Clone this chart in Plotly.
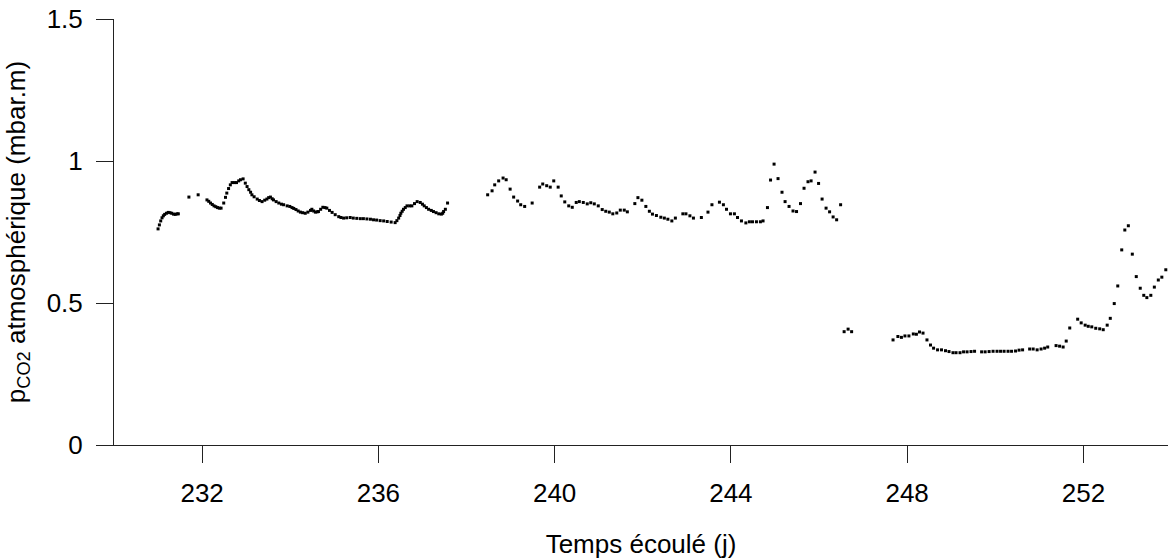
import plotly.graph_objects as go

# Elapsed time (days) and atmospheric pCO2 (mbar.m)
days = [
    231.00, 231.03, 231.06, 231.09, 231.12, 231.15, 231.19, 231.23, 231.27, 231.31,
    231.35, 231.39, 231.43, 231.46,
    231.70, 231.91,
    232.11, 232.15, 232.19, 232.23, 232.27, 232.31, 232.35, 232.39, 232.43, 232.49,
    232.53, 232.56, 232.60, 232.64, 232.68, 232.73, 232.78, 232.83, 232.87, 232.93,
    232.98, 233.02, 233.06, 233.10, 233.13, 233.18, 233.25, 233.30, 233.36, 233.42,
    233.47, 233.51, 233.55, 233.59, 233.62, 233.68, 233.74, 233.80, 233.85, 233.93,
    233.99, 234.04, 234.08, 234.13, 234.18, 234.23, 234.28, 234.34, 234.40, 234.46,
    234.49, 234.53, 234.57, 234.61, 234.64, 234.69, 234.74, 234.79, 234.83, 234.89,
    234.95, 235.02, 235.10, 235.15, 235.21, 235.28, 235.36, 235.43, 235.51, 235.59,
    235.66, 235.74, 235.82, 235.89, 235.96, 236.04, 236.12, 236.20, 236.29, 236.38,
    236.42, 236.46, 236.49, 236.51, 236.54, 236.57, 236.61, 236.65, 236.71, 236.76,
    236.82, 236.88, 236.95, 237.00, 237.04, 237.09, 237.14, 237.20, 237.25, 237.31,
    237.37, 237.43, 237.46, 237.48, 237.52, 237.57,
    238.48, 238.58, 238.64, 238.73, 238.83, 238.90, 238.99, 239.07, 239.16, 239.23,
    239.32, 239.49, 239.66, 239.73, 239.82, 239.90, 239.98, 240.08, 240.15, 240.23,
    240.32, 240.40, 240.49, 240.56, 240.65, 240.74, 240.82, 240.90, 240.99, 241.08,
    241.16, 241.24, 241.32, 241.41, 241.49, 241.58, 241.65, 241.82, 241.89, 241.98,
    242.07, 242.15, 242.22, 242.31, 242.41, 242.49, 242.57, 242.66, 242.74, 242.91,
    242.98, 243.07, 243.15, 243.33, 243.48, 243.57, 243.74, 243.83, 243.90, 243.99,
    244.08, 244.15, 244.24, 244.34, 244.42, 244.49, 244.58, 244.67, 244.73, 244.83,
    244.90, 244.98, 245.07, 245.16, 245.23, 245.32, 245.41, 245.49, 245.58, 245.66,
    245.75, 245.82, 245.91, 245.99, 246.07, 246.16, 246.24, 246.32, 246.40, 246.49,
    246.57, 246.66, 246.74,
    247.68, 247.79, 247.87, 247.95, 248.04, 248.14, 248.21, 248.28, 248.36, 248.45,
    248.53, 248.60, 248.69, 248.78, 248.87, 248.95, 249.04, 249.11, 249.20, 249.28,
    249.36, 249.45, 249.53, 249.69, 249.77, 249.86, 249.95, 250.04, 250.12, 250.20,
    250.29, 250.37, 250.46, 250.54, 250.62, 250.78, 250.86, 250.95, 251.04, 251.12,
    251.19, 251.38, 251.46, 251.54, 251.61, 251.69, 251.87, 251.95, 252.04, 252.11,
    252.19, 252.28, 252.37, 252.45, 252.54, 252.61, 252.70, 252.78, 252.87, 252.94,
    253.02, 253.11, 253.20, 253.29, 253.37, 253.44, 253.53, 253.61, 253.70, 253.78,
    253.87,
]

pco2 = [
    0.761, 0.775, 0.789, 0.800, 0.807, 0.812, 0.816, 0.819, 0.818, 0.816,
    0.813, 0.812, 0.814, 0.814,
    0.873, 0.881,
    0.863, 0.858, 0.852, 0.847, 0.842, 0.839, 0.836, 0.834, 0.834, 0.852,
    0.872, 0.887, 0.903, 0.916, 0.924, 0.924, 0.924, 0.930, 0.934, 0.937,
    0.922, 0.910, 0.899, 0.890, 0.881, 0.874, 0.866, 0.861, 0.857, 0.862,
    0.866, 0.871, 0.873, 0.867, 0.863, 0.857, 0.852, 0.848, 0.846, 0.842,
    0.840, 0.836, 0.833, 0.829, 0.824, 0.820, 0.818, 0.816, 0.820, 0.826,
    0.830, 0.824, 0.820, 0.821, 0.822, 0.830, 0.837, 0.836, 0.834, 0.826,
    0.819, 0.811, 0.804, 0.801, 0.799, 0.800, 0.801, 0.799, 0.798, 0.797,
    0.797, 0.796, 0.795, 0.793, 0.792, 0.790, 0.789, 0.787, 0.785, 0.783,
    0.790, 0.799, 0.808, 0.816, 0.823, 0.830, 0.836, 0.842, 0.842, 0.842,
    0.850, 0.857, 0.854, 0.848, 0.842, 0.836, 0.830, 0.826, 0.822, 0.818,
    0.814, 0.813, 0.816, 0.822, 0.830, 0.852,
    0.881, 0.895, 0.916, 0.930, 0.940, 0.934, 0.901, 0.873, 0.859, 0.846,
    0.840, 0.852, 0.908, 0.919, 0.913, 0.908, 0.930, 0.908, 0.877, 0.856,
    0.842, 0.837, 0.854, 0.857, 0.854, 0.849, 0.853, 0.849, 0.842, 0.829,
    0.823, 0.820, 0.814, 0.817, 0.827, 0.827, 0.821, 0.850, 0.871, 0.862,
    0.840, 0.823, 0.813, 0.808, 0.802, 0.799, 0.795, 0.789, 0.799, 0.814,
    0.814, 0.807, 0.799, 0.801, 0.820, 0.846, 0.855, 0.846, 0.830, 0.814,
    0.814, 0.801, 0.789, 0.782, 0.786, 0.786, 0.786, 0.786, 0.789, 0.836,
    0.933, 0.989, 0.938, 0.890, 0.857, 0.840, 0.824, 0.822, 0.850, 0.904,
    0.927, 0.930, 0.961, 0.921, 0.866, 0.834, 0.821, 0.803, 0.793, 0.846,
    0.399, 0.408, 0.399,
    0.370, 0.382, 0.379, 0.384, 0.384, 0.391, 0.390, 0.398, 0.394, 0.370,
    0.352, 0.341, 0.335, 0.335, 0.332, 0.329, 0.325, 0.325, 0.325, 0.328,
    0.328, 0.329, 0.330, 0.328, 0.328, 0.329, 0.330, 0.330, 0.330, 0.330,
    0.330, 0.330, 0.331, 0.334, 0.335, 0.338, 0.338, 0.335, 0.338, 0.341,
    0.345, 0.350, 0.348, 0.345, 0.366, 0.412, 0.443, 0.430, 0.422, 0.418,
    0.416, 0.411, 0.409, 0.406, 0.422, 0.446, 0.498, 0.560, 0.687, 0.757,
    0.772, 0.672, 0.593, 0.552, 0.527, 0.519, 0.527, 0.556, 0.581, 0.591,
    0.617,
]

x_ticks = [232, 236, 240, 244, 248, 252]
y_ticks = [0, 0.5, 1, 1.5]
y_ticktext = ["0", "0.5", "1", "1.5"]

fig = go.Figure(
    go.Scatter(
        x=days,
        y=pco2,
        mode="markers",
        marker=dict(symbol="square", size=3, color="black", line=dict(width=0)),
        showlegend=False,
    )
)

font_family = "Liberation Sans, Arial, Helvetica, sans-serif"

fig.update_layout(
    width=1168,
    height=560,
    margin=dict(l=114, r=0, t=19, b=115),
    paper_bgcolor="white",
    plot_bgcolor="white",
    font=dict(family=font_family, size=26, color="black"),
)

fig.update_xaxes(
    range=[230, 253.92],
    tickvals=x_ticks,
    ticks="outside",
    ticklen=17,
    tickwidth=1,
    tickcolor="#222",
    showline=True,
    linecolor="#222",
    linewidth=1,
    showgrid=False,
    zeroline=False,
    ticklabelstandoff=8,
    title=dict(text="Temps écoulé (j)", standoff=27, font=dict(size=26)),
)

fig.update_yaxes(
    range=[0, 1.5],
    tickvals=y_ticks,
    ticktext=y_ticktext,
    ticks="outside",
    ticklen=17,
    tickwidth=1,
    tickcolor="#222",
    showline=True,
    linecolor="#222",
    linewidth=1,
    showgrid=False,
    zeroline=False,
    ticklabelstandoff=8,
    title=dict(text="p<sub>CO2</sub> atmosphérique (mbar.m)", standoff=13, font=dict(size=26)),
)

fig.write_html(
    "out.html",
    config={"displayModeBar": False},
    post_script="document.body.style.margin='0';document.body.style.overflow='hidden';",
)
